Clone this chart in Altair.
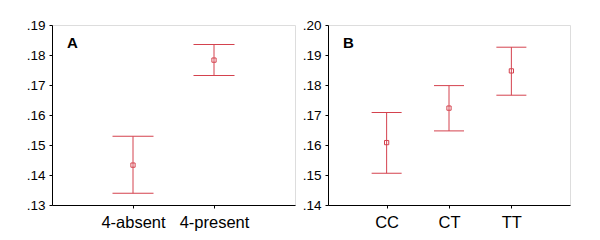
import altair as alt
import pandas as pd

# Panel A data
a_groups = ["4-absent", "4-present"]
a_mean = [0.1433, 0.1783]
a_low = [0.1339, 0.1732]
a_high = [0.1529, 0.1835]

# Panel B data
b_groups = ["CC", "CT", "TT"]
b_mean = [0.1608, 0.1723, 0.1847]
b_low = [0.1506, 0.1647, 0.1766]
b_high = [0.1708, 0.1798, 0.1926]

a_ticks = [0.13, 0.14, 0.15, 0.16, 0.17, 0.18, 0.19]
b_ticks = [0.14, 0.15, 0.16, 0.17, 0.18, 0.19, 0.20]
panel_labels = ["A", "B"]

RED = "#d4424e"
FONT = "Liberation Sans"
LABEL_EXPR = "replace(format(datum.value, '.2f'), '0.', '.')"


def panel(groups, mean, low, high, ticks, label, padding, cap, extent, width):
    df = pd.DataFrame({"g": groups, "m": mean, "lo": low, "hi": high})
    x = alt.X("g:N", sort=groups,
              scale=alt.Scale(type="point", domain=groups, padding=padding),
              axis=alt.Axis(title=None, labelAngle=0, labelFontSize=16.5, labelFont=FONT,
                            labelColor="black", tickSize=3, tickColor="black",
                            domainColor="black", labelPadding=6, grid=False))
    yscale = alt.Scale(domain=[ticks[0], ticks[-1]], nice=False, zero=False)
    yaxis = alt.Axis(title=None, values=ticks, labelExpr=LABEL_EXPR,
                     labelFontSize=13.5, labelFont=FONT, labelColor="black",
                     tickSize=3, tickColor="black", domainColor="black",
                     labelPadding=4, grid=False, minExtent=extent, maxExtent=extent)
    base = alt.Chart(df)
    rule = base.mark_rule(color=RED, strokeWidth=1).encode(
        x=x, y=alt.Y("lo:Q", scale=yscale, axis=yaxis), y2="hi:Q")
    cap_lo = base.mark_tick(color=RED, thickness=1, size=cap, opacity=1).encode(
        x=x, y=alt.Y("lo:Q", scale=yscale, axis=yaxis))
    cap_hi = base.mark_tick(color=RED, thickness=1, size=cap, opacity=1).encode(
        x=x, y=alt.Y("hi:Q", scale=yscale, axis=yaxis))
    pts = base.mark_point(shape="square", size=18, filled=False, color=RED,
                          strokeWidth=1, opacity=1).encode(
        x=x, y=alt.Y("m:Q", scale=yscale, axis=yaxis))
    txt = alt.Chart(pd.DataFrame({"t": [label]})).mark_text(
        font=FONT, fontSize=15, fontWeight="bold", align="left", baseline="alphabetic", color="black"
    ).encode(text="t:N", x=alt.value(15), y=alt.value(23))
    return alt.layer(rule, cap_lo, cap_hi, pts, txt).properties(width=width, height=180)


pa = panel(a_groups, a_mean, a_low, a_high, a_ticks, panel_labels[0], 1.0, 41, 38, 243)
pb = panel(b_groups, b_mean, b_low, b_high, b_ticks, panel_labels[1], 0.94, 30, 26, 242)

chart = alt.hconcat(pa, pb, spacing=5).properties(
    padding={"left": 5, "top": 9, "right": 5, "bottom": 0}
).configure_view(stroke="#8c8c8c", strokeWidth=2).configure(background="white")

chart.save("out.html", embed_options={"renderer": "svg", "actions": False})
